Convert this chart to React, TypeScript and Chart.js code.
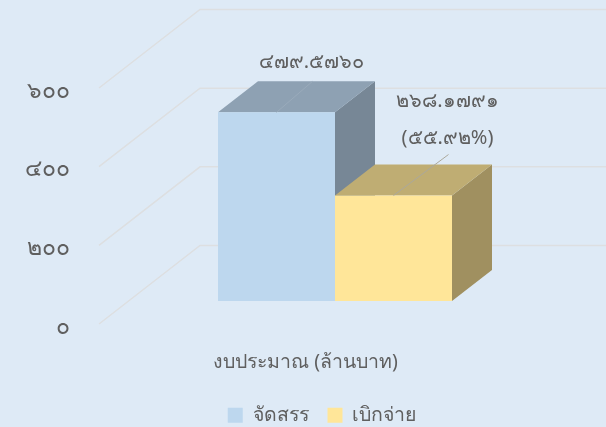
import React, { useEffect, useRef } from "react";
import { Chart, registerables } from "chart.js";

Chart.register(...registerables);

const categories = ["งบประมาณ (ล้านบาท)"];
const seriesNames = ["จัดสรร", "เบิกจ่าย"];
const allocated = [479.576];
const disbursed = [268.1791];
const yTickLabels: Record<number, string> = { 0: "๐", 200: "๒๐๐", 400: "๔๐๐", 600: "๖๐๐" };
const valueLabels = [["๔๗๙.๕๗๖๐"], ["๒๖๘.๑๗๙๑", "(๕๕.๙๒%)"]];
const frontColors = ["#BDD7EE", "#FFE699"];
const topColors = ["#8EA1B3", "#BFAD73"];
const sideColors = ["#778796", "#A09060"];

const FONT = '"Noto Sans", sans-serif';
const TEXT = "#5F5F5F";
const GRID = "#DDDFE1";
const WALL = { x: 101, y: 78.5 };
const BAR_OFFSET = { x: 29.5, y: 23 };
const BAR_DEPTH = { x: 40, y: 31 };

function poly(ctx: CanvasRenderingContext2D, pts: number[][], fill: string) {
  ctx.beginPath();
  pts.forEach((p, i) => (i ? ctx.lineTo(p[0], p[1]) : ctx.moveTo(p[0], p[1])));
  ctx.closePath();
  ctx.fillStyle = fill;
  ctx.fill();
}

const scene = {
  id: "scene3d",
  afterLayout(chart: any) {
    chart.legend.left += 38;
    chart.legend.top += 8;
    chart.legend.bottom += 8;
  },
  beforeDatasetsDraw(chart: any) {
    const { ctx, chartArea, scales } = chart;
    ctx.save();
    ctx.strokeStyle = GRID;
    ctx.lineWidth = 1.5;
    for (const t of scales.y.ticks) {
      const py = scales.y.getPixelForValue(t.value);
      ctx.beginPath();
      ctx.moveTo(chartArea.left, py);
      ctx.lineTo(chartArea.left + WALL.x, py - WALL.y);
      ctx.lineTo(chartArea.right + WALL.x, py - WALL.y);
      ctx.stroke();
    }
    [0, 1].forEach((i) => {
      const bar = chart.getDatasetMeta(i).data[0];
      const { x, y, base, width } = bar.getProps(["x", "y", "base", "width"], true);
      const l = x - width / 2 + BAR_OFFSET.x;
      const r = x + width / 2 + BAR_OFFSET.x;
      const t = y - BAR_OFFSET.y;
      const b = base - BAR_OFFSET.y;
      poly(ctx, [[r, t], [r + BAR_DEPTH.x, t - BAR_DEPTH.y], [r + BAR_DEPTH.x, b - BAR_DEPTH.y], [r, b]], sideColors[i]);
      poly(ctx, [[l, t], [l + BAR_DEPTH.x, t - BAR_DEPTH.y], [r + BAR_DEPTH.x, t - BAR_DEPTH.y], [r, t]], topColors[i]);
    });
    ctx.restore();
  },
  beforeDatasetDraw(chart: any) {
    chart.ctx.save();
    chart.ctx.translate(BAR_OFFSET.x, -BAR_OFFSET.y);
  },
  afterDatasetDraw(chart: any) {
    chart.ctx.restore();
  },
  afterDatasetsDraw(chart: any) {
    const { ctx } = chart;
    ctx.save();
    ctx.textAlign = "center";
    ctx.textBaseline = "middle";
    const leaders = [
      { from: [0, 0], to: [36, -31], color: "#9AABBB" },
      { from: [0, 0], to: [55, -41], color: "#ABA89C" },
    ];
    const anchors = [
      [{ dx: 35, dy: -50 }],
      [{ dx: 54, dy: -94 }, { dx: 54, dy: -57 }],
    ];
    [0, 1].forEach((i) => {
      const bar = chart.getDatasetMeta(i).data[0];
      const { x, y } = bar.getProps(["x", "y"], true);
      const cx = x + BAR_OFFSET.x;
      const cy = y - BAR_OFFSET.y;
      const lead = leaders[i];
      ctx.strokeStyle = lead.color;
      ctx.lineWidth = 1;
      ctx.beginPath();
      ctx.moveTo(cx + lead.from[0], cy + lead.from[1]);
      ctx.lineTo(cx + lead.to[0], cy + lead.to[1]);
      ctx.stroke();
      ctx.fillStyle = TEXT;
      ctx.font = `20px ${FONT}`;
      valueLabels[i].forEach((text, k) => {
        ctx.fillText(text, cx + anchors[i][k].dx, cy + anchors[i][k].dy);
      });
    });
    ctx.restore();
  },
};

export default function App() {
  const ref = useRef<HTMLCanvasElement>(null);
  useEffect(() => {
    document.body.style.margin = "0";
    document.body.style.background = "#DEEAF6";
    const chart = new Chart(ref.current!, {
      type: "bar",
      data: {
        labels: categories,
        datasets: [
          { label: seriesNames[0], data: allocated, backgroundColor: frontColors[0] },
          { label: seriesNames[1], data: disbursed, backgroundColor: frontColors[1] },
        ],
      },
      options: {
        responsive: false,
        animation: false,
        categoryPercentage: 0.5666,
        barPercentage: 1,
        layout: { padding: { left: 0, top: 88, right: 0, bottom: 0 } },
        scales: {
          x: {
            grid: { display: false, drawTicks: false },
            border: { display: false },
            ticks: { color: TEXT, font: { family: FONT, size: 19.5 }, padding: 26.5 },
            afterFit: (s: any) => { s.height = 54.5; },
          },
          y: {
            min: 0,
            max: 600,
            grid: { display: false, drawTicks: false },
            border: { display: false },
            ticks: {
              stepSize: 200,
              padding: 29,
              labelOffset: 3,
              color: TEXT,
              font: { family: FONT, size: 23 },
              callback: (v: any) => yTickLabels[v],
            },
            afterFit: (s: any) => { s.width = 99; },
          },
          pad: {
            axis: "y",
            position: "right",
            grid: { display: false, drawTicks: false },
            border: { display: false },
            ticks: { display: false },
            afterFit: (s: any) => { s.width = 94; },
          },
        },
        plugins: {
          legend: {
            position: "bottom",
            labels: {
              boxWidth: 15,
              boxHeight: 15,
              padding: 19,
              color: TEXT,
              font: { family: FONT, size: 19.5 },
            },
          },
          tooltip: { enabled: false },
        },
      } as any,
      plugins: [scene],
    });
    return () => chart.destroy();
  }, []);
  return <canvas ref={ref} width={606} height={427} style={{ display: "block", background: "#DEEAF6" }} />;
}
